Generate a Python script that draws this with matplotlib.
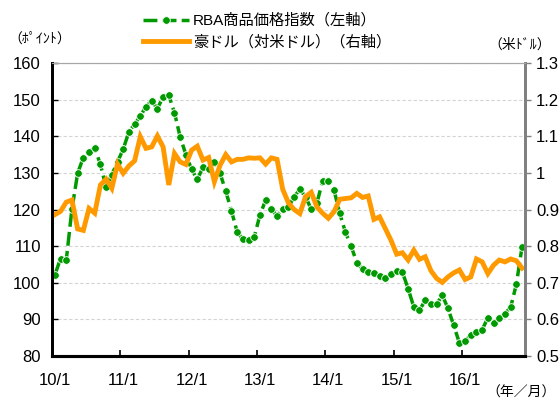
import matplotlib
matplotlib.use('Agg')
import matplotlib.pyplot as plt
import numpy as np

plt.rcParams['font.family'] = ['Liberation Sans', 'Noto Sans CJK JP', 'DejaVu Sans']

# monthly data, Jan 2010 - Nov 2016
rba = [102.1, 106.6, 106.1, 120.1, 129.9, 134.2, 135.7, 136.8, 132.3, 126.1,
       129.5, 133.0, 136.5, 141.2, 143.3, 145.5, 148.1, 149.7, 147.5, 150.8,
       151.2, 146.4, 139.8, 135.0, 131.0, 128.2, 131.5, 131.0, 133.0, 129.9,
       125.0, 119.6, 113.9, 111.9, 111.8, 112.5, 118.5, 122.6, 120.1, 118.3,
       120.2, 120.6, 123.5, 125.5, 123.5, 120.1, 121.8, 127.8, 127.8, 125.3,
       119.0, 113.8, 110.0, 105.5, 103.7, 102.9, 102.7, 101.8, 101.2, 102.3,
       103.2, 102.9, 98.4, 93.4, 92.5, 95.2, 94.1, 94.1, 96.6, 93.0,
       88.4, 83.6, 84.1, 85.7, 86.5, 87.2, 90.4, 88.9, 90.4, 91.6,
       93.3, 99.6, 109.8]

aud = [0.886, 0.895, 0.920, 0.926, 0.847, 0.843, 0.903, 0.890, 0.967, 0.983,
       0.958, 1.024, 0.999, 1.019, 1.033, 1.099, 1.067, 1.071, 1.101, 1.071,
       0.967, 1.053, 1.030, 1.023, 1.062, 1.073, 1.035, 1.042, 0.976, 1.021,
       1.050, 1.030, 1.037, 1.037, 1.041, 1.040, 1.041, 1.024, 1.041, 1.037,
       0.955, 0.918, 0.900, 0.889, 0.935, 0.947, 0.907, 0.890, 0.876, 0.894,
       0.928, 0.930, 0.932, 0.944, 0.933, 0.937, 0.873, 0.880, 0.848, 0.816,
       0.778, 0.782, 0.762, 0.789, 0.764, 0.771, 0.733, 0.712, 0.701, 0.716,
       0.727, 0.735, 0.709, 0.716, 0.765, 0.757, 0.725, 0.748, 0.762, 0.757,
       0.765, 0.760, 0.740]

year_labels = ['10/1', '11/1', '12/1', '13/1', '14/1', '15/1', '16/1']
left_ticks = [80, 90, 100, 110, 120, 130, 140, 150, 160]
right_ticks = [0.5, 0.6, 0.7, 0.8, 0.9, 1.0, 1.1, 1.2, 1.3]

x = np.arange(len(rba))

fig = plt.figure(figsize=(5.59, 4.03), dpi=100)
ax = fig.add_axes([0.093, 0.1166, 0.846, 0.727])
ax2 = ax.twinx()

green = '#009a00'
orange = '#ff9900'

l1, = ax.plot(x, rba, color=green, lw=2.5, linestyle=(0, (4, 1.5)),
              marker='o', ms=5.5, markerfacecolor=green,
              markeredgecolor='white', markeredgewidth=0.6)
l2, = ax2.plot(x, aud, color=orange, lw=3.5, solid_joinstyle='miter')

ax.set_xlim(-0.5, len(rba) - 0.5)
ax.set_ylim(80, 160)
ax2.set_ylim(0.5, 1.3)

ax.set_yticks(left_ticks)
ax.set_yticklabels([str(v) for v in left_ticks])
ax2.set_yticks(right_ticks)
ax2.set_yticklabels(['%g' % v for v in right_ticks])

# tick marks at year boundaries, labels under January
ax.set_xticks(np.arange(0, len(rba), 12) - 0.5)
ax.set_xticklabels([''] * len(year_labels))
ax.set_xticks(np.arange(0, len(rba), 12), year_labels, minor=True)
ax.tick_params(axis='x', which='major', direction='in', length=4, width=1.2, color='black')
ax.tick_params(axis='x', which='minor', length=0, pad=12, labelsize=12)
ax.tick_params(axis='y', direction='in', length=4, width=1, pad=8, labelsize=12)
ax2.tick_params(axis='y', direction='out', length=4, width=1, color='#808080', pad=4, labelsize=12)

ax.yaxis.grid(True, color='#d4d4d4', linestyle=(0, (3, 2)), lw=0.8)
ax.set_axisbelow(True)

for a in (ax, ax2):
    a.spines['top'].set_color('#a6a6a6')
    a.spines['top'].set_linewidth(0.8)
    a.spines['left'].set_linewidth(2)
    a.spines['left'].set_color('black')
    a.spines['bottom'].set_linewidth(2.2)
    a.spines['bottom'].set_color('black')
    a.spines['right'].set_linewidth(2)
    a.spines['right'].set_color('#808080')

fig.legend([l1, l2], ['RBA商品価格指数（左軸）', '豪ドル（対米ドル）（右軸）'],
           loc='upper left', bbox_to_anchor=(0.235, 0.995), frameon=False,
           fontsize=11, handlelength=3, handletextpad=0.3, labelspacing=0.45,
           borderpad=0.25)

fig.text(0.015, 0.905, '（ﾎﾟｲﾝﾄ）', fontsize=10, va='center', ha='left')
fig.text(0.985, 0.888, '（米ﾄﾞﾙ）', fontsize=10, va='center', ha='right')
fig.text(0.995, 0.025, '（年／月）', fontsize=10, va='center', ha='right')

fig.savefig('out.png', dpi=100)
